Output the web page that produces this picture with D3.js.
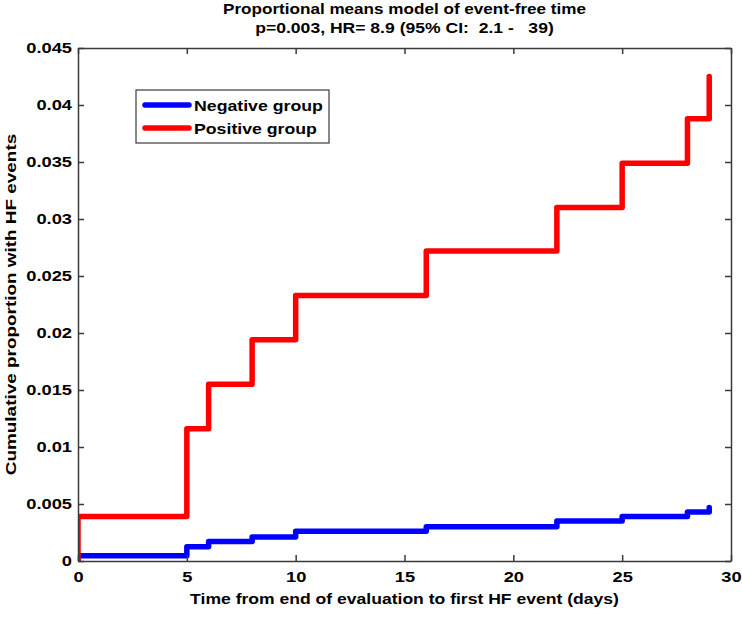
<!DOCTYPE html>
<html>
<head>
<meta charset="utf-8">
<script src="https://cdn.jsdelivr.net/npm/d3@7"></script>
<style>
  html, body { margin: 0; padding: 0; background: #fff; }
  svg { display: block; font-family: "Liberation Sans", Arial, Helvetica, sans-serif; font-weight: bold; }
</style>
</head>
<body>
<svg id="chart" width="742" height="619"></svg>
<script>
// ---- data ----
const titleLines = ["Proportional means model of event-free time", "p=0.003, HR= 8.9 (95% CI:  2.1 -   39)"];
const xLabel = "Time from end of evaluation to first HF event (days)";
const yLabel = "Cumulative proportion with HF events";
const seriesNames = ["Negative group", "Positive group"];
const seriesColors = ["#0000ff", "#ff0000"];
const eventDays = [0, 5, 6, 8, 10, 16, 22, 25, 28, 29];
const negativeValues = [0.00045, 0.00125, 0.0017, 0.0021, 0.0026, 0.0030, 0.0035, 0.0039, 0.0043, 0.0047];
const positiveValues = [0.0039, 0.0116, 0.0155, 0.0194, 0.0233, 0.0272, 0.0310, 0.0349, 0.0388, 0.0425];
const xTicks = [0, 5, 10, 15, 20, 25, 30];
const xTickLabels = ["0", "5", "10", "15", "20", "25", "30"];
const yTicks = [0, 0.005, 0.01, 0.015, 0.02, 0.025, 0.03, 0.035, 0.04, 0.045];
const yTickLabels = ["0", "0.005", "0.01", "0.015", "0.02", "0.025", "0.03", "0.035", "0.04", "0.045"];

// ---- layout ----
const m = { left: 78, top: 48, right: 731, bottom: 561 };
const svg = d3.select("#chart");
const x = d3.scaleLinear().domain([0, 30]).range([m.left, m.right]);
const y = d3.scaleLinear().domain([0, 0.045]).range([m.bottom, m.top]);
const STRETCH = 1.18; // reference glyphs are wider than tall

function stretch(sel, f) {
  sel.each(function () {
    const w = this.getComputedTextLength();
    if (w > 0) {
      d3.select(this).attr("textLength", w * f).attr("lengthAdjust", "spacingAndGlyphs");
    }
  });
}

svg.append("defs").append("clipPath").attr("id", "plotclip")
  .append("rect").attr("x", m.left).attr("y", m.top - 10)
  .attr("width", m.right - m.left).attr("height", m.bottom - m.top + 10);

// ---- lines ----
const line = d3.line().x(d => x(d[0])).y(d => y(d[1])).curve(d3.curveStepAfter);
const allSeries = [negativeValues, positiveValues];
allSeries.forEach((vals, i) => {
  const pts = [[0, 0]].concat(eventDays.map((t, j) => [t, vals[j]]));
  svg.append("path")
    .attr("d", line(pts))
    .attr("fill", "none")
    .attr("stroke", seriesColors[i])
    .attr("stroke-width", 5.5)
    .attr("stroke-linejoin", "round")
    .attr("stroke-linecap", "round")
    .attr("clip-path", "url(#plotclip)");
});

// ---- axes ----
const tickLen = 6;
function styleAxis(g) {
  g.selectAll("path.domain").attr("stroke", "#3a3a3a").attr("stroke-width", 1.5);
  g.selectAll(".tick line").attr("stroke", "#3a3a3a").attr("stroke-width", 1.5);
  g.selectAll(".tick text").attr("fill", "#000").style("font-size", "15.5px").style("font-weight", "bold")
    .style("font-family", '"Liberation Sans", Arial, sans-serif');
  stretch(g.selectAll(".tick text"), STRETCH);
}
const gx = svg.append("g").attr("transform", `translate(0,${m.bottom})`)
  .call(d3.axisBottom(x).tickValues(xTicks).tickFormat((d, i) => xTickLabels[i]).tickSizeInner(-tickLen).tickSizeOuter(0).tickPadding(10));
styleAxis(gx);
const gxt = svg.append("g").attr("transform", `translate(0,${m.top})`)
  .call(d3.axisTop(x).tickValues(xTicks).tickFormat("").tickSizeInner(-tickLen).tickSizeOuter(0));
styleAxis(gxt);
const gy = svg.append("g").attr("transform", `translate(${m.left},0)`)
  .call(d3.axisLeft(y).tickValues(yTicks).tickFormat((d, i) => yTickLabels[i]).tickSizeInner(-tickLen).tickSizeOuter(0).tickPadding(6));
styleAxis(gy);
const gyr = svg.append("g").attr("transform", `translate(${m.right},0)`)
  .call(d3.axisRight(y).tickValues(yTicks).tickFormat("").tickSizeInner(-tickLen).tickSizeOuter(0));
styleAxis(gyr);

// ---- titles & labels ----
const cx = (m.left + m.right) / 2;
const t1 = svg.append("text").attr("x", cx).attr("y", 13.5).attr("text-anchor", "middle")
  .style("font-size", "15px").text(titleLines[0]);
const t2 = svg.append("text").attr("x", cx).attr("y", 32.5).attr("text-anchor", "middle")
  .attr("xml:space", "preserve").style("white-space", "pre")
  .style("font-size", "15px").text(titleLines[1]);
stretch(t1, 1.14);
stretch(t2, 1.17);
const xl = svg.append("text").attr("x", cx).attr("y", 604).attr("text-anchor", "middle")
  .style("font-size", "15px").text(xLabel);
stretch(xl, 1.17);
const yl = svg.append("text").attr("transform", `translate(15.5,${(m.top + m.bottom) / 2}) rotate(-90)`)
  .attr("text-anchor", "middle").style("font-size", "15.5px").text(yLabel);
stretch(yl, 1.22);

// ---- legend ----
const lg = svg.append("g");
lg.append("rect").attr("x", 136).attr("y", 90).attr("width", 193).attr("height", 53)
  .attr("fill", "#fff").attr("stroke", "#3a3a3a").attr("stroke-width", 1.2);
seriesNames.forEach((name, i) => {
  const ly = 105 + i * 23;
  lg.append("line").attr("x1", 145).attr("x2", 189).attr("y1", ly).attr("y2", ly)
    .attr("stroke", seriesColors[i]).attr("stroke-width", 5.5).attr("stroke-linecap", "round");
  const t = lg.append("text").attr("x", 194).attr("y", ly + 5.5).style("font-size", "15px").text(name);
  stretch(t, 1.18);
});
</script>
</body>
</html>
